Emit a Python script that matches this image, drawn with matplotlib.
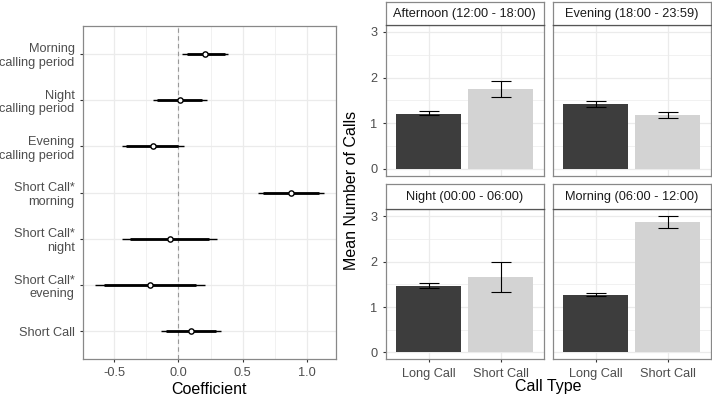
import matplotlib
matplotlib.use("Agg")
import matplotlib.pyplot as plt
from matplotlib.ticker import MultipleLocator

plt.rcParams['font.family'] = ['Liberation Sans', 'DejaVu Sans']

# ---- left panel: coefficients ----
terms = ["Morning\ncalling period", "Night\ncalling period", "Evening\ncalling period",
         "Short Call*\nmorning", "Short Call*\nnight", "Short Call*\nevening", "Short Call"]
coef = [0.21, 0.01, -0.20, 0.877, -0.07, -0.224, 0.094]
ci_lo = [0.03, -0.20, -0.44, 0.617, -0.44, -0.654, -0.138]
ci_hi = [0.39, 0.22, 0.044, 1.137, 0.30, 0.205, 0.328]
ci50_lo = [0.07, -0.17, -0.41, 0.66, -0.38, -0.58, -0.10]
ci50_hi = [0.36, 0.18, 0.0, 1.10, 0.24, 0.14, 0.29]

# ---- right panel: mean calls ----
periods = ["Afternoon (12:00 - 18:00)", "Evening (18:00 - 23:59)",
           "Night (00:00 - 06:00)", "Morning (06:00 - 12:00)"]
call_types = ["Long Call", "Short Call"]
long_mean = [1.21, 1.41, 1.46, 1.27]
long_lo = [1.18, 1.35, 1.41, 1.24]
long_hi = [1.26, 1.48, 1.52, 1.30]
short_mean = [1.75, 1.18, 1.66, 2.86]
short_lo = [1.58, 1.12, 1.34, 2.73]
short_hi = [1.93, 1.25, 1.99, 3.00]

txt_col = "#4D4D4D"
border = "#888888"
grid_col = "#EBEBEB"

fig = plt.figure(figsize=(7.12, 3.99), dpi=100)

def style(ax):
    for s in ax.spines.values():
        s.set_color(border)
        s.set_linewidth(0.9)
    ax.tick_params(colors="#333333", labelcolor=txt_col, labelsize=9.2, length=2.5, width=0.8)
    ax.set_axisbelow(True)

ax = fig.add_axes([83/712, 1-359/399, 253/712, 333/399])
style(ax)
n = len(terms)
ypos = list(range(n, 0, -1))
ax.set_xlim(-0.745, 1.229)
ax.set_ylim(0.4, n + 0.6)
ax.xaxis.set_major_locator(MultipleLocator(0.5))
ax.xaxis.set_minor_locator(MultipleLocator(0.25))
ax.grid(True, which="major", color=grid_col, lw=0.9)
ax.grid(True, which="minor", axis="x", color=grid_col, lw=0.5)
ax.tick_params(which="minor", length=0)
ax.axvline(0, color="#999999", lw=0.8, ls=(0, (4, 3)))
ax.set_yticks(ypos)
ax.set_yticklabels(terms, ha="right", multialignment="right")
ax.set_xticks([-0.5, 0.0, 0.5, 1.0])
ax.set_xticklabels(["-0.5", "0.0", "0.5", "1.0"])
ax.hlines(ypos, ci_lo, ci_hi, color="black", lw=1.0, zorder=3)
ax.hlines(ypos, ci50_lo, ci50_hi, color="black", lw=2.0, zorder=3)
ax.plot(coef, ypos, "o", ms=3.8, mfc="white", mec="black", mew=1.0, zorder=4)
ax.set_xlabel("Coefficient", fontsize=11.5, color="black", labelpad=2)

# ---- facets ----
px = [385.7, 552.7]
pw = 158.3
rows = [(25, 175.7), (209.3, 359.3)]
strip_top = [2, 184]
for i, per in enumerate(periods):
    r, c = divmod(i, 2)
    top, bot = rows[r]
    a = fig.add_axes([px[c]/712, 1-bot/399, pw/712, (bot-top)/399])
    style(a)
    a.set_xlim(0.4, 2.6)
    a.set_ylim(-0.15, 3.15)
    a.yaxis.set_major_locator(MultipleLocator(1))
    a.yaxis.set_minor_locator(MultipleLocator(0.5))
    a.grid(True, which="major", color=grid_col, lw=0.9)
    a.grid(True, which="minor", axis="y", color=grid_col, lw=0.5)
    a.tick_params(which="minor", length=0)
    means = [long_mean[i], short_mean[i]]
    lo = [long_lo[i], short_lo[i]]
    hi = [long_hi[i], short_hi[i]]
    a.bar([1, 2], means, width=0.9, color=["#3D3D3D", "#D3D3D3"], zorder=2)
    a.errorbar([1, 2], means, yerr=[[m - l for m, l in zip(means, lo)],
                                    [h - m for m, h in zip(means, hi)]],
               fmt="none", ecolor="black", elinewidth=0.8, capsize=7.5, capthick=0.8, zorder=3)
    a.set_xticks([1, 2])
    if r == 1:
        a.set_xticklabels(call_types)
    else:
        a.set_xticklabels([])
        a.tick_params(axis="x", length=0)
    if c == 0:
        a.set_yticks([0, 1, 2, 3])
    else:
        a.set_yticklabels([])
        a.tick_params(axis="y", length=0)
    st = strip_top[r]
    s = fig.add_axes([px[c]/712, 1-top/399, pw/712, (top-st)/399])
    s.set_xticks([]); s.set_yticks([])
    for sp in s.spines.values():
        sp.set_color(border)
        sp.set_linewidth(0.9)
    s.spines["bottom"].set_color("#555555")
    s.text(0.5, 0.5, per, ha="center", va="center", fontsize=9.2, color="#1A1A1A",
           transform=s.transAxes)

fig.text(352/712, 1-190/399, "Mean Number of Calls", rotation=90, ha="center", va="center",
         fontsize=11.5)
fig.text(548/712, 1-387/399, "Call Type", ha="center", va="center", fontsize=11.5)

fig.savefig("out.png", dpi=100)
